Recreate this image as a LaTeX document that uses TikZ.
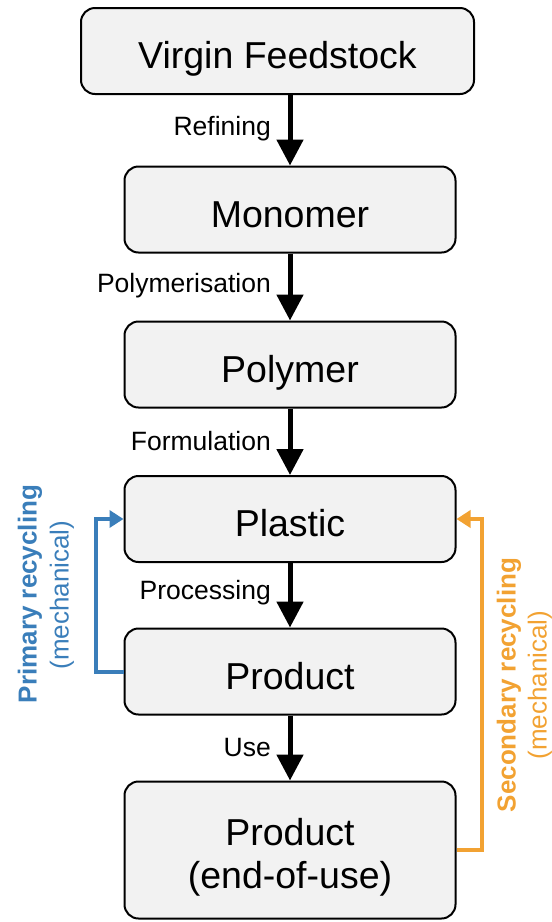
\documentclass[tikz,border=0pt]{standalone}
\usepackage{fontspec}
\setmainfont{Liberation Sans}
\usetikzlibrary{arrows.meta}
\definecolor{boxfill}{HTML}{F2F2F2}
\definecolor{pblue}{HTML}{3A7EBA}
\definecolor{sorange}{HTML}{F2A232}
\begin{document}
\begin{tikzpicture}[x=1pt,y=-1pt,
 box/.style={draw=black, line width=2pt, fill=boxfill, rounded corners=14pt, minimum width=331pt, minimum height=86pt, inner sep=0pt, align=center, text height=35pt, text depth=0pt, font=\fontsize{37.5}{43}\selectfont},
 lbl/.style={font=\fontsize{26.5}{30}\selectfont, anchor=east, inner sep=0pt},
 flow/.style={line width=5pt, -{Triangle[length=26pt,width=26pt]}},
 side/.style={rotate=90, inner sep=0pt, font=\fontsize{26}{30}\selectfont},
]
\useasboundingbox (0,0) rectangle (552,922);
\node[box, minimum width=393pt] (vf) at (277.5,51) {Virgin Feedstock};
\node[box] (mono) at (290,209.5) {Monomer};
\node[box] (poly) at (290,364.5) {Polymer};
\node[box] (plas) at (290,519) {Plastic};
\node[box] (prod) at (290,671.5) {Product};
\node[box, minimum height=137pt, text height=76pt, text depth=0pt] (eou) at (290,850) {Product\\(end-of-use)};

\draw[flow] (mono.north |- vf.south) -- (mono.north);
\draw[flow] (mono.south) -- (poly.north);
\draw[flow] (poly.south) -- (plas.north);
\draw[flow] (plas.south) -- (prod.north);
\draw[flow] (prod.south) -- (eou.north);

\node[lbl] (l1) at (271,129) {Refining};
\node[lbl] (l2) at (271,286) {Polymerisation};
\node[lbl] (l3) at (271,441) {Formulation};
\node[lbl] (l4) at (271,593) {Processing};
\node[lbl] (l5) at (271,748) {Use};

\draw[pblue, line width=4pt, -{Triangle[length=14pt,width=17pt]}] (prod.west) -- ++(-28,0) |- (plas.west);
\draw[sorange, line width=4pt, -{Triangle[length=14pt,width=17pt]}] (eou.east) -- ++(25,0) |- (plas.east);

\node[side, text=pblue, font=\bfseries\fontsize{26}{30}\selectfont] (pr) at (30,594) {Primary recycling};
\node[side, text=pblue] (pm) at (62,595) {(mechanical)};
\node[side, text=sorange, font=\bfseries\fontsize{26}{30}\selectfont] (sr) at (509,685) {Secondary recycling};
\node[side, text=sorange] (sm) at (540,685) {(mechanical)};
\end{tikzpicture}
\end{document}
